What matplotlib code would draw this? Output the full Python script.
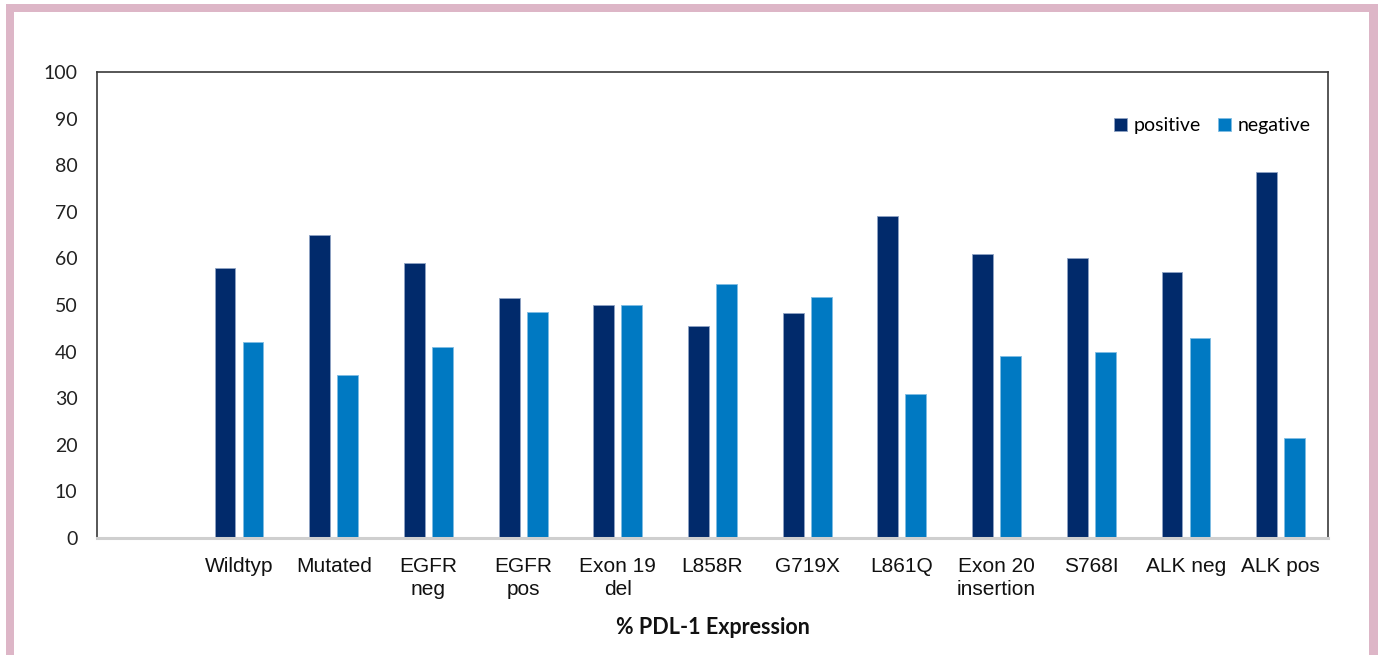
import matplotlib
matplotlib.use("Agg")
import matplotlib.pyplot as plt
import numpy as np
from matplotlib.patches import Rectangle

categories = ["", "Wildtyp", "Mutated", "EGFR\nneg", "EGFR\npos", "Exon 19\ndel", "L858R",
              "G719X", "L861Q", "Exon 20\ninsertion", "S768I", "ALK neg", "ALK pos"]
positive = [np.nan, 58, 65, 59, 51.5, 50, 45.5, 48.2, 69, 61, 60, 57, 78.5]
negative = [np.nan, 42, 35, 41, 48.5, 50, 54.5, 51.8, 31, 39, 40, 43, 21.5]
yticks = [0, 10, 20, 30, 40, 50, 60, 70, 80, 90, 100]

dark = "#012A6B"
light = "#0079C2"

fig = plt.figure(figsize=(13.78, 6.55), dpi=100)
ax = fig.add_axes([97/1378, 1-538/655, (1328-97)/1378, (538-72)/655])

x = np.arange(len(categories))
w = 0.22
off = 0.148
ax.bar(x - off, positive, w, color=dark, edgecolor="#8fa3c4", linewidth=0.6, label="positive", zorder=2)
ax.bar(x + off, negative, w, color=light, edgecolor="#7fbde3", linewidth=0.6, label="negative", zorder=2)

ax.set_xlim(-0.5, len(categories) - 0.5)
ax.set_ylim(0, 100)
ax.set_yticks(yticks)
ax.set_yticklabels([str(v) for v in yticks], fontfamily="Lato", fontsize=14, color="#222222")
ax.set_xticks(x)
ax.set_xticklabels(categories, fontfamily="Liberation Sans", fontsize=15, color="#111111",
                   linespacing=1.25)
ax.tick_params(axis="both", length=0)
ax.tick_params(axis="y", pad=14)
ax.tick_params(axis="x", pad=14)

for s in ["left", "top", "right"]:
    ax.spines[s].set_color("#3a3a3a")
    ax.spines[s].set_linewidth(1.2)
ax.spines["bottom"].set_color("#cfcfcf")
ax.spines["bottom"].set_linewidth(2.2)

ax.set_xlabel("% PDL-1 Expression", fontfamily="Lato", fontweight="bold", fontsize=15.5,
              labelpad=13, color="#111111")

leg = ax.legend(loc="upper right", bbox_to_anchor=(1.0, 0.94), ncol=2, frameon=False,
                prop={"family": "Lato", "size": 14}, handlelength=0.65, handleheight=0.65,
                columnspacing=0.9, handletextpad=0.35)

# pink frame
pink = "#DDB6C7"
fig.patches.append(Rectangle((6/1378, 1-12/655), 1-6/1378, 8/655, transform=fig.transFigure,
                             facecolor=pink, edgecolor="none", zorder=0))
fig.patches.append(Rectangle((6/1378, 0), 8/1378, 1-4/655, transform=fig.transFigure,
                             facecolor=pink, edgecolor="none", zorder=0))
fig.patches.append(Rectangle((1369/1378, 0), 9/1378, 1-4/655, transform=fig.transFigure,
                             facecolor=pink, edgecolor="none", zorder=0))

fig.savefig("out.png", dpi=100, facecolor="white")
